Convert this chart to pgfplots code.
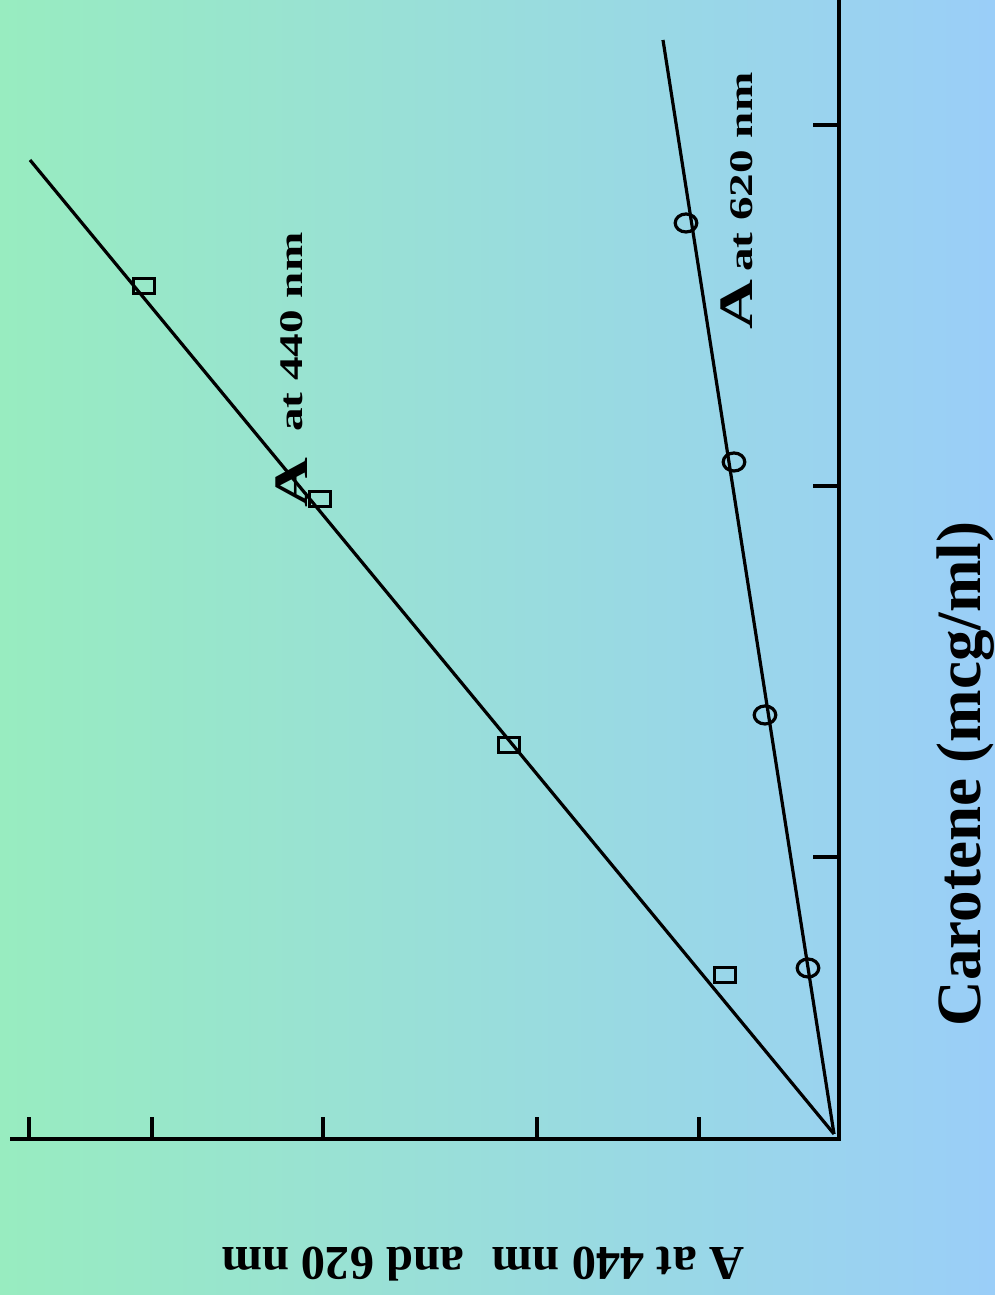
\documentclass[border=0pt]{standalone}
\usepackage{pgfplots}
\pgfplotsset{compat=1.18}
\usepackage{pgfplotstable}
\usepackage{fontspec}
\setmainfont{Liberation Serif}
\usepackage{graphicx}
\definecolor{bgl}{RGB}{152,236,192}
\definecolor{bgr}{RGB}{154,206,248}

\pgfplotstableread{
x y
1.14 1.64
3.30 3.94
5.19 6.40
6.95 8.53
}\sqdata
\pgfplotstableread{
x y
0.31 1.71
0.74 4.24
1.05 6.77
1.53 9.16
}\circdata

\begin{document}
\begin{tikzpicture}[x=1pt,y=1pt]
\path[use as bounding box] (0,0) rectangle (995,1295);
\shade[left color=bgl, right color=bgr] (0,0) rectangle (995,1295);
\begin{axis}[
  at={(839pt,156pt)}, anchor=south east,
  scale only axis, width=827pt, height=1139pt,
  xmin=0, xmax=8.27, ymin=0, ymax=11.39,
  x dir=reverse,
  axis x line=bottom, axis y line=right,
  axis line style={-, black, line width=4pt, line cap=rect},
  xtick={1.40,3.02,5.16,6.87,8.10}, ytick={2.82,6.53,10.14},
  xticklabels={}, yticklabels={},
  tick align=inside,
  tick style={black},
  xtick style={black, line width=3.5pt, /pgfplots/major tick length=22pt},
  ytick style={black, line width=3.5pt, /pgfplots/major tick length=26pt},
  clip=false,
]
\addplot[black, line width=3.2pt, no marks] coordinates {(0.05,0.05) (8.09,9.79)};
\addplot[black, line width=3.2pt, no marks] coordinates {(0.05,0.05) (1.76,10.99)};
\addplot[only marks, mark=square, mark size=7.5pt, mark options={xscale=1.42, line width=3.2pt, draw=black, fill=none}] table {\sqdata};
\addplot[only marks, mark=o, mark size=9pt, mark options={xscale=1.2, line width=3.2pt, draw=black, fill=none}] table {\circdata};
\end{axis}
\node[rotate=90, anchor=base, inner sep=0] at (980,521) {\fontsize{63}{63}\selectfont\bfseries Carotene (mcg/ml)};
\node[rotate=180, anchor=base, inner sep=0] at (483,47) {\fontsize{48.5}{48.5}\selectfont\bfseries A at 440 nm\hspace{28pt}and 620 nm};
\node[rotate=90, anchor=base west, inner sep=0] at (302,863) {\scalebox{1.43}[1]{\fontsize{33}{33}\selectfont\bfseries at 440 nm}};
\node[rotate=90, anchor=base west, inner sep=0] at (307,787) {\scalebox{1.44}[1]{\fontsize{48}{48}\selectfont\bfseries A}};
\node[rotate=90, anchor=base west, inner sep=0] at (752,1023) {\scalebox{1.43}[1]{\fontsize{33}{33}\selectfont\bfseries at 620 nm}};
\node[rotate=90, anchor=base west, inner sep=0] at (752,965) {\scalebox{1.44}[1]{\fontsize{48}{48}\selectfont\bfseries A}};
\end{tikzpicture}
\end{document}
